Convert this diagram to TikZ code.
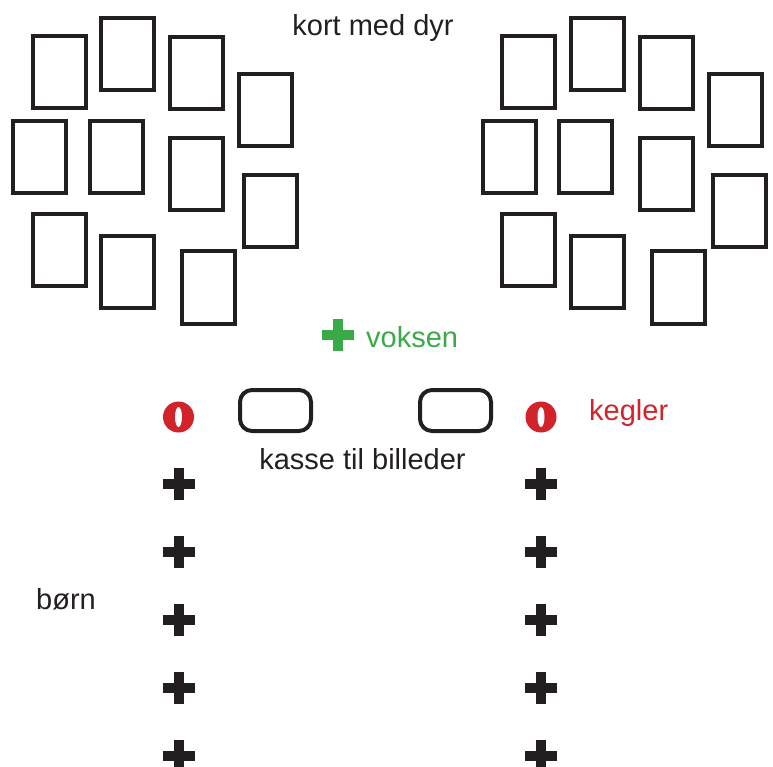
\documentclass[tikz,border=0pt]{standalone}
\usepackage{fontspec}
\setmainfont{Liberation Sans}
\definecolor{sort}{HTML}{231F20}
\definecolor{groen}{HTML}{3AAA48}
\definecolor{roed}{HTML}{D2232A}

\tikzset{
  kort/.style={draw=sort, line width=4pt, rectangle, inner sep=0pt,
    minimum width=53pt, minimum height=72pt},
  kasse/.style={draw=sort, line width=4pt, rectangle, rounded corners=12pt,
    inner sep=0pt, minimum width=71pt, minimum height=41pt},
  kegle/.style={circle, fill=roed, inner sep=0pt, minimum size=31pt},
  tekst/.style={font=\fontsize{29}{34}\selectfont, text=sort, inner sep=0pt},
  barn/.pic={\fill (-16,-5) rectangle (16,5); \fill (-5,-16) rectangle (5,16);}
}

\begin{document}
\begin{tikzpicture}[x=1pt, y=-1pt]
        \useasboundingbox (0,0) rectangle (773,767);
        % kort med dyr, venstre og hoejre
        \foreach \n/\x/\y in {a/59/72.5, b/127.5/54, c/196.5/73, d/265.5/110.5,
            e/39.5/157.5, f/116/157.5, g/196.5/174, h/270/211.5,
            i/59/250, j/127.5/272, k/208.5/287.5} {
          \node[kort] (V\n) at (\x, \y) {};
          \node[kort] (H\n) at (\x+469.5, \y) {};
        }
        \node[tekst, anchor=base] (dyr) at (373, 36) {kort med dyr};

        % voksen
        \pic[groen] (voksenplus) at (337.5, 335) {barn};
        \node[tekst, text=groen, anchor=base west] (voksen) at (366, 347) {voksen};

        % kegler og kasser
        \node[kegle] (K1) at (178.5, 417) {};
        \node[kegle] (K2) at (541, 417) {};
        \fill[white] (K1.center) ellipse (3.5 and 10);
        \fill[white] (K2.center) ellipse (3.5 and 10);
        \node[tekst, text=roed, anchor=base west] (kegler) at (589, 420) {kegler};
        \node[kasse] (B1) at (275.5, 410.5) {};
        \node[kasse] (B2) at (455.5, 410.5) {};
        \node[tekst, anchor=base] (billeder) at (362.5, 469) {kasse til billeder};

        % boern
        \foreach \y in {484, 552, 620, 688, 756} {
          \pic[sort] at (179, \y) {barn};
          \pic[sort] at (541, \y) {barn};
        }
        \node[tekst, anchor=base west] (boern) at (36, 609) {børn};

      \end{tikzpicture}
\end{document}
